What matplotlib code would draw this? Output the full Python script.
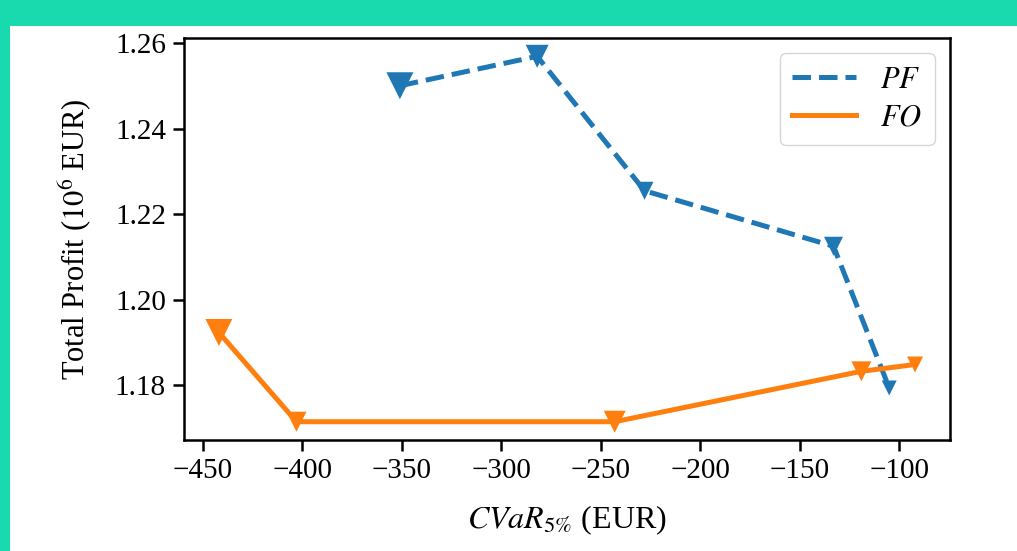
import matplotlib
matplotlib.use("Agg")
import matplotlib.pyplot as plt
from matplotlib.patches import Rectangle

# Data
pf_cvar = [-351, -282, -228, -133, -105]
pf_profit = [1.2501, 1.2570, 1.2255, 1.2125, 1.1793]
pf_size = [27, 23, 18, 19, 15]   # marker widths (px)

fo_cvar = [-442, -403, -243, -119, -92]
fo_profit = [1.1923, 1.1714, 1.1714, 1.1832, 1.1848]
fo_size = [27, 20, 22, 20, 16]

plt.rcParams['font.family'] = ['Liberation Serif', 'DejaVu Serif']
plt.rcParams['mathtext.fontset'] = 'stix'
plt.rcParams['font.size'] = 21

fig = plt.figure(figsize=(10.17, 5.51), dpi=100, facecolor='#19d9ae')
# white panel inside the teal border
fig.patches.append(Rectangle((10 / 1017, 0), 1, 1 - 26 / 551, transform=fig.transFigure,
                             facecolor='white', edgecolor='none', zorder=-10))

ax = fig.add_axes([0.181, 0.2015, 0.753, 0.7295])

ax.plot(pf_cvar, pf_profit, '--', color='#1f77b4', lw=3.6, label='$PF$')
ax.plot(fo_cvar, fo_profit, '-', color='#ff7f0e', lw=3.6, label='$FO$')
ax.scatter(pf_cvar, pf_profit, s=[(w * 0.72) ** 2 for w in pf_size], marker='v',
           color='#1f77b4', zorder=3, linewidths=0)
ax.scatter(fo_cvar, fo_profit, s=[(w * 0.72) ** 2 for w in fo_size], marker='v',
           color='#ff7f0e', zorder=3, linewidths=0)

ax.set_xticks([-450, -400, -350, -300, -250, -200, -150, -100])
ax.set_yticks([1.18, 1.20, 1.22, 1.24, 1.26])
ax.set_yticklabels(['1.18', '1.20', '1.22', '1.24', '1.26'])
ax.tick_params(width=1.8, length=8, pad=5, labelsize=21)
for s in ax.spines.values():
    s.set_linewidth(1.8)

ax.set_xlabel(r'$CVaR_{5\%}$ (EUR)', fontsize=23, labelpad=14)
ax.set_ylabel(r'Total Profit ($10^6$ EUR)', fontsize=22, labelpad=15)

ax.legend(loc='upper right', fontsize=22, handlelength=2.1, borderpad=0.4,
          labelspacing=0.3, borderaxespad=0.5)

fig.savefig("out.png", facecolor=fig.get_facecolor())
